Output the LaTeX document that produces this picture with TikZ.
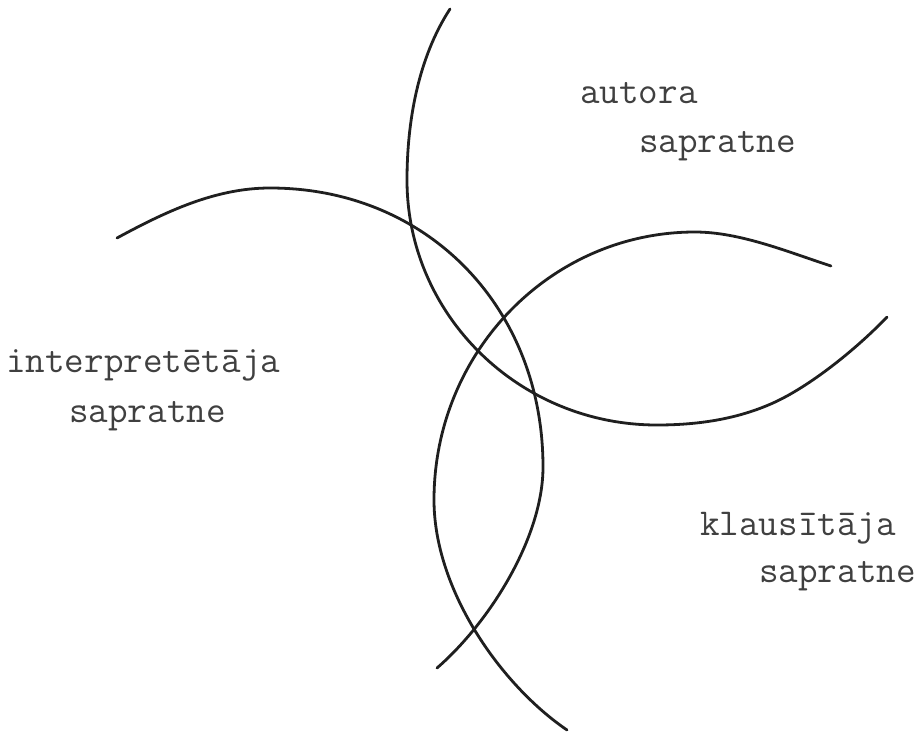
\documentclass[tikz,border=0pt]{standalone}
\usepackage{fontspec}
\tikzset{
  arcline/.style={draw=black!88, line width=2.8pt, line cap=round},
  label/.style={font=\ttfamily\fontsize{38}{38}\selectfont, text=black!75, inner sep=0pt, anchor=base west}
}
\begin{document}
\begin{tikzpicture}[x=1pt,y=-1pt]
\useasboundingbox (0,0) rectangle (918,731);
% arc of the author
\draw[arcline] (450,9) .. controls (418,58) and (407,122) .. (407,180)
  .. controls (407,315) and (519,425) .. (657,425)
  .. controls (697,425) and (736.5,419.4) .. (773,403)
  .. controls (809.5,386.6) and (856,349.4) .. (887,317);
% arc of the interpreter
\draw[arcline] (117,238) .. controls (165,212) and (215,188) .. (270,188)
  .. controls (428,188) and (543,308) .. (543,467)
  .. controls (543,537) and (490,622) .. (437,668);
% arc of the listener
\draw[arcline] (831,266) .. controls (788,252) and (740,232) .. (695,232)
  .. controls (551,232) and (434,352) .. (434,500)
  .. controls (434,590) and (501,685) .. (567,730);
\node[label] (aut1) at (580,103) {autora};
\node[label] (aut2) at (639,152) {sapratne};
\node[label] (int1) at (6,372) {interpretētāja};
\node[label] (int2) at (69,422) {sapratne};
\node[label] (kla1) at (700,535) {klausītāja};
\node[label] (kla2) at (759,582) {sapratne};
\end{tikzpicture}
\end{document}
